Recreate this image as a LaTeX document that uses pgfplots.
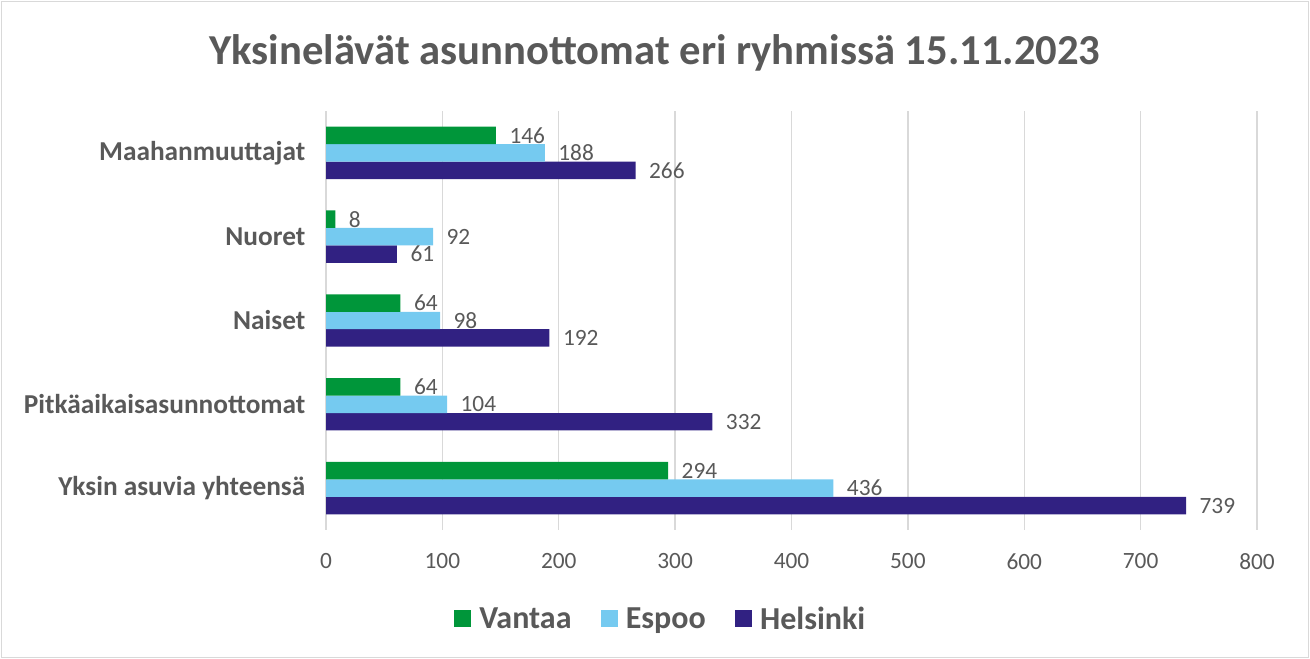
\documentclass[border=0pt]{standalone}
\usepackage{pgfplots}
\pgfplotsset{compat=1.18}
\usepackage{fontspec}
\setmainfont{Carlito}
\definecolor{cV}{HTML}{00963A}
\definecolor{cE}{HTML}{75CAF0}
\definecolor{cH}{HTML}{312182}
\definecolor{txt}{HTML}{595959}
\definecolor{grd}{HTML}{D9D9D9}
\begin{document}
\begin{tikzpicture}[x=0.75pt,y=0.75pt]
\path[use as bounding box] (0,0) rectangle (1310,659);
\draw[grd,line width=1pt] (1.5,1.5) rectangle (1308.5,657.5);
\node[text=txt,font=\fontsize{32}{38}\selectfont\bfseries] at (655,606) {Yksinelävät asunnottomat eri ryhmissä 15.11.2023};
\begin{axis}[
  at={(244.5pt,96.75pt)}, anchor=south west,
  scale only axis, width=698.25pt, height=314.25pt,
  xmin=0, xmax=800, ymin=-0.5, ymax=4.5,
  xtick={0,100,...,800},
  ytick={0,1,2,3,4},
  yticklabels={Yksin asuvia yhteensä,Pitkäaikaisasunnottomat,Naiset,Nuoret\ ,Maahanmuuttajat},
  yticklabel style={font=\fontsize{20.5}{24}\selectfont\bfseries, text=txt, xshift=-12pt},
  xticklabel style={font=\fontsize{17.5}{20}\selectfont, text=txt, yshift=-14pt},
  /pgf/number format/assume math mode=true,
  xmajorgrids, major grid style={grd, line width=1pt},
  axis line style={draw=none},
  axis x line*=bottom, axis y line*=left,
  major tick length=0pt,
  xbar, bar width=13.1pt,
  nodes near coords,
  every node near coord/.append style={font=\fontsize{17.5}{20}\selectfont, text=txt, anchor=west, inner sep=0pt, xshift=10pt},
  legend style={at={(0.36,-0.212)}, anchor=center, draw=none, legend columns=3,
    font=\fontsize{24}{28}\selectfont\bfseries, text=txt,
    /tikz/every odd column/.append style={column sep=4pt},
    /tikz/every even column/.append style={column sep=20pt}},
  legend image code/.code={\fill[#1] (0pt,-6.4pt) rectangle (12.75pt,6.4pt);},
  reverse legend,
]
\draw[grd, line width=1pt] (axis cs:0,-0.5) -- (axis cs:0,4.5);
\addplot[fill=cH, draw=none, bar shift=-13.1pt] coordinates {(739,0) (332,1) (192,2) (61,3) (266,4)};
\addplot[fill=cE, draw=none, bar shift=0pt] coordinates {(436,0) (104,1) (98,2) (92,3) (188,4)};
\addplot[fill=cV, draw=none, bar shift=13.1pt] coordinates {(294,0) (64,1) (64,2) (8,3) (146,4)};
\legend{Helsinki,Espoo,Vantaa}
\end{axis}
\end{tikzpicture}
\end{document}
